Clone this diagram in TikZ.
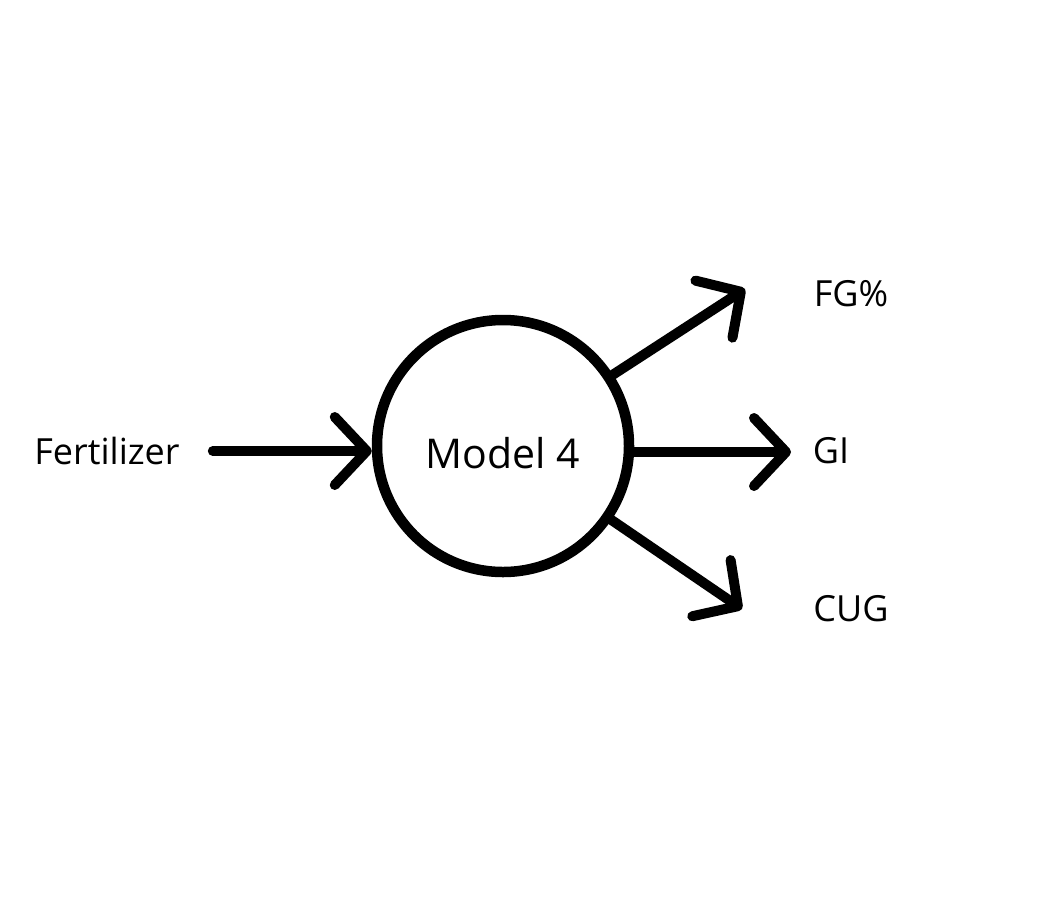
\documentclass[tikz,border=0pt]{standalone}
\usepackage{fontspec}
\setmainfont{Open Sans}
\usetikzlibrary{arrows.meta}
\begin{document}
\begin{tikzpicture}[x=1pt,y=-1pt,
  lbl/.style={font=\fontsize{36}{40}\selectfont, inner sep=0pt},
  arr/.style={line width=10pt, line cap=round, line join=round,
    -{Straight Barb[length=32pt,width=68pt,line cap=round,line join=round]}}]
\useasboundingbox[fill=white] (0,0) rectangle (1038,900);
\node[circle, draw, line width=10.5pt, minimum size=252pt] (model) at (503,446) {};
\node[lbl, font=\fontsize{41}{46}\selectfont] (modeltxt) at (503,453) {Model 4};
\node[lbl] (fert) at (107,451) {Fertilizer};
\node[lbl] (fg) at (851,294) {FG\%};
\node[lbl] (gi) at (831,451) {GI};
\node[lbl] (cug) at (851,609) {CUG};
\coordinate (fgtip) at (745,289);
\coordinate (gitip) at (791,452);
\coordinate (cugtip) at (742,609);
\draw[arr, shorten <=33pt] (fert.east) -- (fert.east -| model.west);
\draw[arr] (model) -- (fgtip);
\draw[arr] (gitip -| model.east) -- (gitip);
\draw[arr] (model) -- (cugtip);
\end{tikzpicture}
\end{document}
